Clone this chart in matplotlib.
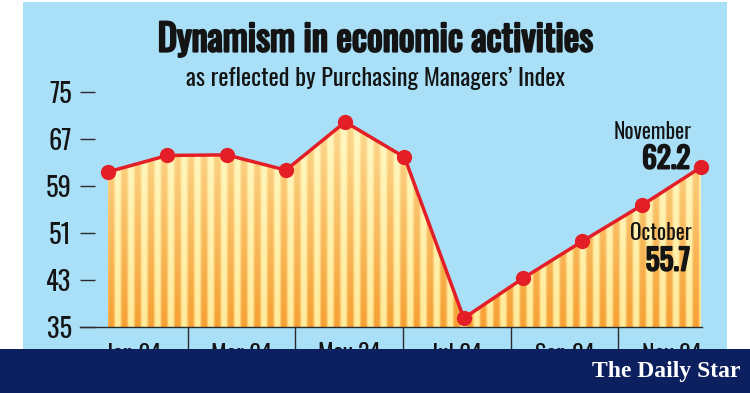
import numpy as np
import matplotlib
matplotlib.use('Agg')
import matplotlib.pyplot as plt
from matplotlib import font_manager as fm
from matplotlib.patches import Rectangle, Polygon
import matplotlib.patheffects as pe

# ---------------- data ----------------
months = ['Jan 24', 'Feb 24', 'Mar 24', 'Apr 24', 'May 24', 'Jun 24',
          'Jul 24', 'Aug 24', 'Sep 24', 'Oct 24', 'Nov 24']
pmi = [61.4, 64.2, 64.3, 61.7, 69.9, 63.9, 36.5, 43.3, 49.6, 55.7, 62.2]
y_ticks = [35, 43, 51, 59, 67, 75]
x_labels = ['Jan 24', 'Mar 24', 'May 24', 'Jul 24', 'Sep 24', 'Nov 24']
title = 'Dynamism in economic activities'
subtitle = 'as reflected by Purchasing Managers\u2019 Index'
note_months = ['November', 'October']
note_values = ['62.2', '55.7']
brand = 'The Daily Star'

# ---------------- fonts ----------------
avail = {f.name for f in fm.fontManager.ttflist}
def pick(*names):
    for n in names:
        if n in avail:
            return n
    return 'DejaVu Sans'
COND = pick('Oswald', 'Roboto Condensed', 'Open Sans Condensed',
            'Liberation Sans Narrow', 'DejaVu Sans')
SERIF = pick('Liberation Serif', 'DejaVu Serif')
cond_stretch = 'condensed' if COND == 'DejaVu Sans' else 'normal'
weights = [f.weight for f in fm.fontManager.ttflist if f.name == COND]
def wnum(w):
    if isinstance(w, (int, float)):
        return w
    return {'bold': 700, 'heavy': 800, 'black': 900, 'semibold': 600,
            'demibold': 600, 'extra bold': 800}.get(str(w).lower(), 400)
has_bold = any(wnum(w) >= 600 for w in weights)

W, H = 750, 393
fig = plt.figure(figsize=(W / 100, H / 100), dpi=100)
fig.patch.set_facecolor('white')

def fx(x):
    return x / W

def fy(y):
    return 1 - y / H

BLUE = '#A9E0F8'
NAVY = '#0C1F5E'
RED = '#E41E26'
INK = '#141414'

def bold_fx(lw):
    if has_bold:
        return []
    return [pe.withStroke(linewidth=lw, foreground=INK)]

# blue panel
fig.patches.append(Rectangle((fx(23), fy(349)), (727 - 23) / W, (349 - 2) / H,
                             transform=fig.transFigure, facecolor=BLUE,
                             edgecolor='none', zorder=-5))

# ---------------- main axes ----------------
px_per_month = 59.3
left_px, right_px, top_px, bot_px = 80, 702, 92, 327
ax = fig.add_axes([fx(left_px), fy(bot_px), (right_px - left_px) / W,
                   (bot_px - top_px) / H])
ax.set_zorder(2)
ax.patch.set_alpha(0)
x0 = -(108 - left_px) / px_per_month
x1 = (right_px - 108) / px_per_month
ax.set_xlim(x0, x1)
ax.set_ylim(35, 75)
for s in ['left', 'right', 'top']:
    ax.spines[s].set_visible(False)
ax.spines['bottom'].set_color('#2a2a2a')
ax.spines['bottom'].set_linewidth(1.0)
ax.set_xticks([])
ax.set_yticks(y_ticks)
ax.tick_params(axis='y', direction='in', length=11, width=1.0,
               color='#2a2a2a', pad=6, labelsize=19, labelcolor=INK)
for lab in ax.get_yticklabels():
    lab.set_fontfamily(COND)
    lab.set_fontstretch(cond_stretch)

xs = np.arange(len(months))

# striped gradient fill under the line
ncols, nrows = 1400, 300
gx = np.linspace(xs[0], xs[-1], ncols)
gy = np.linspace(35, 75, nrows)
period = 13.3 / px_per_month
phase = (gx - 0.05) / period
wo = 0.5 + 0.5 * np.cos(2 * np.pi * phase)
wo = np.clip((wo - 0.5) * 1.8 + 0.5, 0, 1)
v = np.clip((gy - 35) / 35.0, 0, 1)[:, None]
def hx(c):
    return np.array([int(c[i:i + 2], 16) / 255 for i in (1, 3, 5)])
org_b, org_t = hx('#F6A033'), hx('#FDDB92')
yel_b, yel_t = hx('#FFEB9C'), hx('#FFF8C2')
org = org_b[None, None, :] * (1 - v[..., None]) + org_t[None, None, :] * v[..., None]
yel = yel_b[None, None, :] * (1 - v[..., None]) + yel_t[None, None, :] * v[..., None]
w3 = wo[None, :, None]
img = org * w3 + yel * (1 - w3)
im = ax.imshow(img, extent=(xs[0], xs[-1], 35, 75), origin='lower',
               aspect='auto', interpolation='bilinear', zorder=1)
poly = Polygon(np.column_stack([list(xs) + [xs[-1], xs[0]],
                                pmi + [35, 35]]),
               closed=True, facecolor='none', edgecolor='none')
ax.add_patch(poly)
im.set_clip_path(poly)

ax.plot(xs, pmi, color=RED, lw=2.5, zorder=3, solid_joinstyle='round',
        clip_on=False)
ax.plot(xs, pmi, linestyle='none', marker='o', ms=11, color=RED,
        markeredgewidth=0, zorder=4, clip_on=False)

# ---------------- x label band ----------------
lax = fig.add_axes([fx(80), fy(362), (726 - 80) / W, (362 - 327) / H])
lax.set_zorder(1)
lax.patch.set_alpha(0)
lax.set_xlim(0, len(x_labels))
lax.set_ylim(0, 1)
lax.axis('off')
lax.vlines(np.arange(1, len(x_labels)), 0, 1, color='#2a2a2a', lw=1.0)
for i, lab in enumerate(x_labels):
    lax.text(i + 0.5, (362 - 354) / 35, lab, ha='center', va='center',
             fontsize=17, color=INK, family=COND, stretch=cond_stretch)

# ---------------- titles ----------------
fig.text(fx(375), fy(40), title, ha='center', va='center', fontsize=26.5,
         fontweight='bold', color=INK, family=COND, stretch=cond_stretch,
         path_effects=bold_fx(1.6))
fig.text(fx(375), fy(78), subtitle, ha='center', va='center', fontsize=17.5,
         color=INK, family=COND, stretch=cond_stretch)

# ---------------- annotations ----------------
note_y = [(132, 159), (233, 261)]
for (m, val), (ym, yv) in zip(zip(note_months, note_values), note_y):
    fig.text(fx(692), fy(ym), m, ha='right', va='center', fontsize=15.5,
             color=INK, family=COND, stretch=cond_stretch)
    fig.text(fx(690), fy(yv), val, ha='right', va='center', fontsize=21,
             fontweight='bold', color=INK, family=COND, stretch=cond_stretch,
             path_effects=bold_fx(1.4))

# ---------------- navy footer ----------------
fig.patches.append(Rectangle((0, 0), 1, (H - 349) / H,
                             transform=fig.transFigure, facecolor=NAVY,
                             edgecolor='none', zorder=10))
fig.text(fx(740), fy(371), brand, ha='right', va='center', fontsize=17,
         fontweight='bold', color='white', family=SERIF, zorder=11)

fig.savefig('out.png', dpi=100, facecolor='white')
